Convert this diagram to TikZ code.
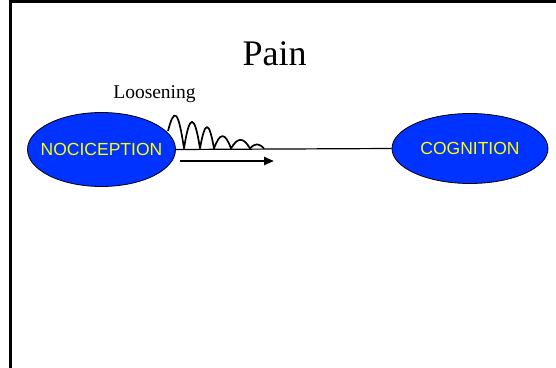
\documentclass[tikz,border=0pt]{standalone}
\usepackage{fontspec}
\setmainfont{Liberation Serif}
\setsansfont{Liberation Sans}
\usetikzlibrary{shapes.geometric,arrows.meta}
\definecolor{lobeblue}{RGB}{0,51,255}
\definecolor{lobetext}{RGB}{255,255,0}
\tikzset{
  lobe/.style={ellipse, draw=black, line width=0.8pt, fill=lobeblue, inner sep=0pt,
    text=lobetext, font=\sffamily\fontsize{17.5}{20}\selectfont},
  frameline/.style={line width=2.2pt, line cap=rect},
  link/.style={line width=1.2pt},
  wave/.style={line width=1.7pt, line join=round},
  push/.style={line width=2.4pt, -{Triangle[length=10pt,width=8pt]}}
}
% zero-width label so the ellipse keeps its set size
\newcommand{\lobelabel}[1]{\makebox[0pt]{#1}}
\begin{document}
\begin{tikzpicture}[x=1pt,y=-1pt]
  \useasboundingbox (0,0) rectangle (556,367);
  % page frame: left and top edges
  \draw[frameline] (10.5,368) -- (10.5,1.5) -- (557,1.5);

  % title and label
  \node[font=\fontsize{36}{40}\selectfont, anchor=base] (title) at (274.5,65) {Pain};
  \node[font=\fontsize{19.5}{22}\selectfont, anchor=base] (loosen) at (154.5,98) {Loosening};

  % the two lobes
  \node[lobe, minimum width=148pt, minimum height=74pt] (noci) at (101.5,149.5) {\lobelabel{NOCICEPTION}};
  \node[lobe, minimum width=156pt, minimum height=70pt] (cog) at (470,148.5) {\lobelabel{COGNITION}};

  % connecting line
  \draw[link] (noci.east) -- (cog.west);

  % damped oscillation on the line
  \draw[wave] (168,131)
     .. controls (174,108) and (178,108) .. (184,148.5)
     .. controls (189.5,113) and (194.5,113) .. (200,148.5)
     .. controls (205,120) and (209,120) .. (214,148.5)
     .. controls (220,132) and (225,132) .. (231,148.5)
     .. controls (237.5,137) and (243.5,137) .. (250,148.5)
     .. controls (255,143) and (259,143) .. (264,148.5);

  % direction arrow
  \coordinate (pushA) at (180,161);
  \coordinate (pushB) at (274,161);
  \draw[push] (pushA) -- (pushB);
\end{tikzpicture}
\end{document}
